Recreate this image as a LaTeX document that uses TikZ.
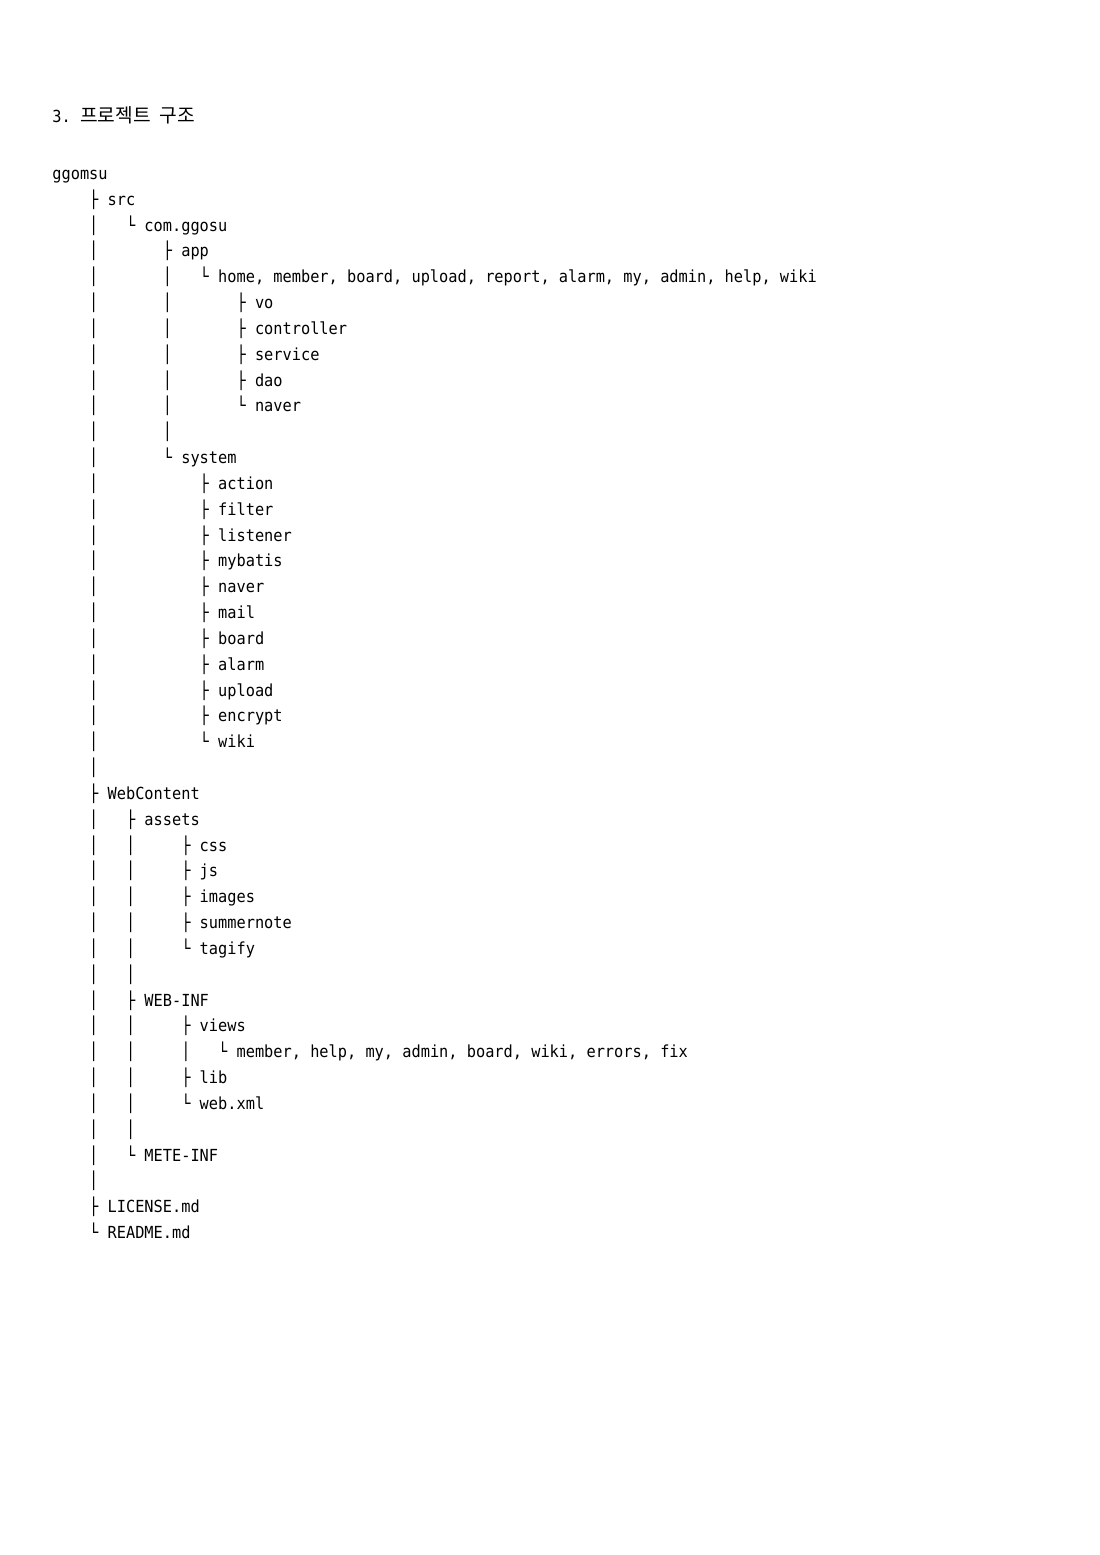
\documentclass[tikz,border=0pt]{standalone}
\usepackage{fontspec}
\setmonofont[FakeStretch=0.92]{DejaVu Sans Mono}
\newfontfamily\cjk{Noto Sans CJK KR}
\frenchspacing

\begin{document}
\begin{tikzpicture}[x=0.5412pt, y=-0.5412pt,
  every node/.style={anchor=base west, inner sep=0pt, font=\ttfamily\fontsize{9pt}{11pt}\selectfont}]
  \useasboundingbox (0,0) rectangle (1100,1555);
  \node (title) at (52,122) {3.~{\cjk\fontsize{10.4pt}{12pt}\selectfont 프로젝트}~{\cjk\fontsize{10.4pt}{12pt}\selectfont 구조}};
  \foreach \txt [count=\i from 0] in {
    {ggomsu},
    {~~~~├ src},
    {~~~~│~~~└ com.ggosu},
    {~~~~│~~~~~~~├ app},
    {~~~~│~~~~~~~│~~~└ home, member, board, upload, report, alarm, my, admin, help, wiki},
    {~~~~│~~~~~~~│~~~~~~~├ vo},
    {~~~~│~~~~~~~│~~~~~~~├ controller},
    {~~~~│~~~~~~~│~~~~~~~├ service},
    {~~~~│~~~~~~~│~~~~~~~├ dao},
    {~~~~│~~~~~~~│~~~~~~~└ naver},
    {~~~~│~~~~~~~│},
    {~~~~│~~~~~~~└ system},
    {~~~~│~~~~~~~~~~~├ action},
    {~~~~│~~~~~~~~~~~├ filter},
    {~~~~│~~~~~~~~~~~├ listener},
    {~~~~│~~~~~~~~~~~├ mybatis},
    {~~~~│~~~~~~~~~~~├ naver},
    {~~~~│~~~~~~~~~~~├ mail},
    {~~~~│~~~~~~~~~~~├ board},
    {~~~~│~~~~~~~~~~~├ alarm},
    {~~~~│~~~~~~~~~~~├ upload},
    {~~~~│~~~~~~~~~~~├ encrypt},
    {~~~~│~~~~~~~~~~~└ wiki},
    {~~~~│},
    {~~~~├ WebContent},
    {~~~~│~~~├ assets},
    {~~~~│~~~│~~~~~├ css},
    {~~~~│~~~│~~~~~├ js},
    {~~~~│~~~│~~~~~├ images},
    {~~~~│~~~│~~~~~├ summernote},
    {~~~~│~~~│~~~~~└ tagify},
    {~~~~│~~~│},
    {~~~~│~~~├ WEB-INF},
    {~~~~│~~~│~~~~~├ views},
    {~~~~│~~~│~~~~~│~~~└ member, help, my, admin, board, wiki, errors, fix},
    {~~~~│~~~│~~~~~├ lib},
    {~~~~│~~~│~~~~~└ web.xml},
    {~~~~│~~~│},
    {~~~~│~~~└ METE-INF},
    {~~~~│},
    {~~~~├ LICENSE.md},
    {~~~~└ README.md}}
    \node (row\i) at (52,179.5+25.83*\i) {\txt};
\end{tikzpicture}
\end{document}
